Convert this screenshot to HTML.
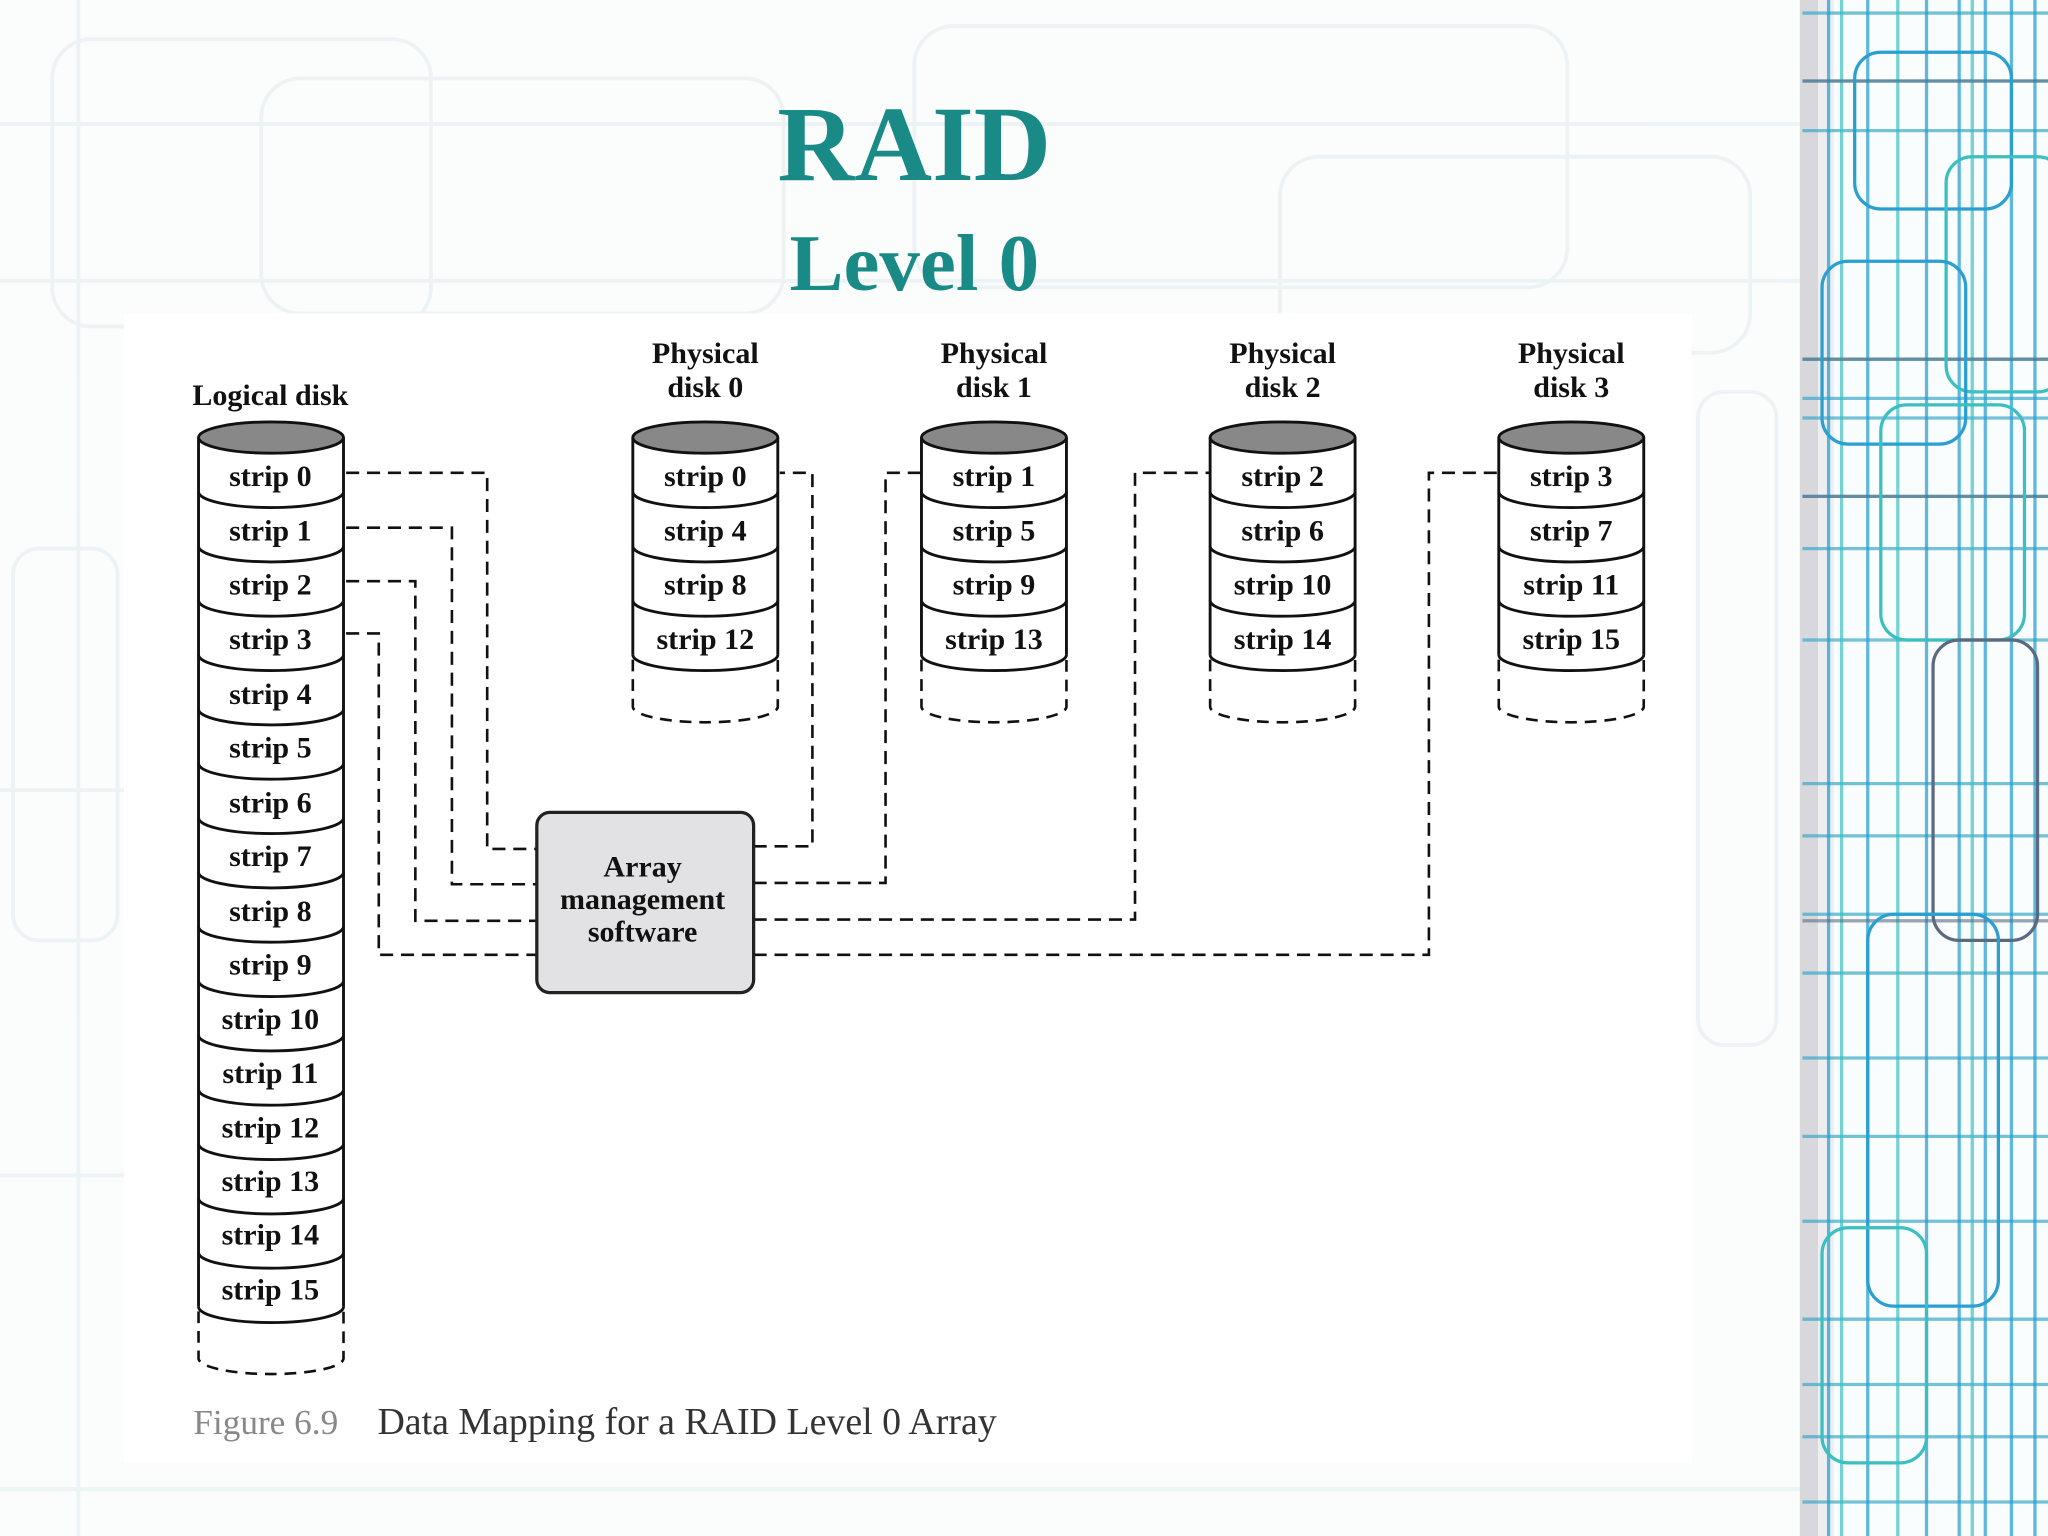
<!DOCTYPE html>
<html><head><meta charset="utf-8"><style>
html,body{margin:0;padding:0;background:#fff;}
svg{display:block;}
</style></head><body>
<svg width="2048" height="1536" viewBox="0 0 1568 1176" xmlns="http://www.w3.org/2000/svg" font-family="Liberation Serif, serif">
<defs>
<g id="pd">
<path d="M-55.5,335 L-55.5,501.4 M55.5,335 L55.5,501.4" stroke="#111" stroke-width="2.2" fill="none"/>
<path d="M-55.5,376.6 A55.5,12 0 0 0 55.5,376.6 M-55.5,418.2 A55.5,12 0 0 0 55.5,418.2 M-55.5,459.8 A55.5,12 0 0 0 55.5,459.8 M-55.5,501.4 A55.5,12 0 0 0 55.5,501.4" stroke="#111" stroke-width="2.2" fill="none"/>
<path d="M-55.5,505 L-55.5,541 A55.5,12 0 0 0 55.5,541 L55.5,505" stroke="#111" stroke-width="2" fill="none" stroke-dasharray="9,6"/>
<ellipse cx="0" cy="335" rx="55.5" ry="12" fill="#888" stroke="#111" stroke-width="2.2"/>
</g>
</defs>
<rect width="1568" height="1176" fill="#fbfdfd"/>
<g stroke="#eaf1f2" stroke-width="3" fill="none" opacity="0.8">
<rect x="40" y="30" width="290" height="220" rx="30"/>
<rect x="200" y="60" width="400" height="180" rx="30"/>
<rect x="700" y="20" width="500" height="200" rx="30"/>
<rect x="980" y="120" width="360" height="150" rx="30"/>
<path d="M0,95 H1380 M0,215 H1380 M0,605 H95 M0,900 H95 M0,1140 H1380 M60,0 V1176"/>
<rect x="10" y="420" width="80" height="300" rx="20"/>
<rect x="1300" y="300" width="60" height="500" rx="20"/>
</g>
<rect x="95" y="240" width="1200" height="880" fill="#fff"/>
<rect x="1380" y="0" width="188" height="1176" fill="#fafdfe"/>
<rect x="1378" y="0" width="14" height="1176" fill="#d8d8dc"/>
<rect x="1392" y="0" width="12" height="1176" fill="#eeeef0"/>
<g fill="none" stroke-width="2.5">
<path d="M1380,10 H1568 M1380,62 H1568 M1380,100 H1568 M1380,275 H1568 M1380,305 H1568 M1380,320 H1568 M1380,380 H1568 M1380,420 H1568 M1380,490 H1568 M1380,600 H1568 M1380,640 H1568 M1380,700 H1568 M1380,745 H1568 M1380,810 H1568 M1380,870 H1568 M1380,935 H1568 M1380,1010 H1568 M1380,1060 H1568 M1380,1100 H1568 M1380,1150 H1568" stroke="#3aa8c8" opacity="0.7"/>
<path d="M1400,0 V1176 M1430,0 V1176 M1475,0 V1176 M1500,0 V1176 M1520,0 V1176 M1540,0 V1176 M1558,0 V1176" stroke="#2a9fd0" opacity="0.75"/>
<path d="M1410,0 V1176 M1453,0 V1176 M1510,0 V1176" stroke="#3bbfc0" opacity="0.7"/>
<path d="M1380,62 H1568 M1380,275 H1568 M1380,380 H1568 M1380,705 H1568" stroke="#5a6a80" opacity="0.6"/>
<rect x="1420" y="40" width="120" height="120" rx="20" stroke="#2a9fd0"/>
<rect x="1490" y="120" width="90" height="180" rx="20" stroke="#3bbfc0"/>
<rect x="1395" y="200" width="110" height="140" rx="20" stroke="#2a9fd0"/>
<rect x="1440" y="310" width="110" height="180" rx="20" stroke="#3bbfc0"/>
<rect x="1480" y="490" width="80" height="230" rx="20" stroke="#5a6a80"/>
<rect x="1430" y="700" width="100" height="300" rx="20" stroke="#2a9fd0"/>
<rect x="1395" y="940" width="80" height="180" rx="20" stroke="#3bbfc0"/>
</g>
<text x="700" y="138" text-anchor="middle" font-size="82" font-weight="bold" fill="#1a8a86">RAID</text>
<text x="700" y="222" text-anchor="middle" font-size="62" font-weight="bold" fill="#1a8a86">Level 0</text>
<g font-size="23" font-weight="bold" fill="#111" text-anchor="middle">
<text x="207" y="310">Logical disk</text>
<text x="540" y="278">Physical</text><text x="540" y="304">disk 0</text>
<text x="761" y="278">Physical</text><text x="761" y="304">disk 1</text>
<text x="982" y="278">Physical</text><text x="982" y="304">disk 2</text>
<text x="1203" y="278">Physical</text><text x="1203" y="304">disk 3</text>
</g>
<g transform="translate(207.5,0)" stroke="#111" stroke-width="2.2" fill="none">
<path d="M-55.5,335 V1000.6 M55.5,335 V1000.6"/>
<path d="M-55.5,376.6 A55.5,12 0 0 0 55.5,376.6 M-55.5,418.2 A55.5,12 0 0 0 55.5,418.2 M-55.5,459.8 A55.5,12 0 0 0 55.5,459.8 M-55.5,501.4 A55.5,12 0 0 0 55.5,501.4 M-55.5,543 A55.5,12 0 0 0 55.5,543 M-55.5,584.6 A55.5,12 0 0 0 55.5,584.6 M-55.5,626.2 A55.5,12 0 0 0 55.5,626.2 M-55.5,667.8 A55.5,12 0 0 0 55.5,667.8 M-55.5,709.4 A55.5,12 0 0 0 55.5,709.4 M-55.5,751 A55.5,12 0 0 0 55.5,751 M-55.5,792.6 A55.5,12 0 0 0 55.5,792.6 M-55.5,834.2 A55.5,12 0 0 0 55.5,834.2 M-55.5,875.8 A55.5,12 0 0 0 55.5,875.8 M-55.5,917.4 A55.5,12 0 0 0 55.5,917.4 M-55.5,959 A55.5,12 0 0 0 55.5,959 M-55.5,1000.6 A55.5,12 0 0 0 55.5,1000.6"/>
<path d="M-55.5,1004 V1040 A55.5,12 0 0 0 55.5,1040 V1004" stroke-dasharray="9,6" stroke-width="2"/>
<ellipse cx="0" cy="335" rx="55.5" ry="12" fill="#888"/>
</g>
<g font-size="23" font-weight="bold" fill="#111" text-anchor="middle">
<text x="207" y="372">strip 0</text><text x="207" y="414">strip 1</text><text x="207" y="455">strip 2</text><text x="207" y="497">strip 3</text>
<text x="207" y="539">strip 4</text><text x="207" y="580">strip 5</text><text x="207" y="622">strip 6</text><text x="207" y="663">strip 7</text>
<text x="207" y="705">strip 8</text><text x="207" y="746">strip 9</text><text x="207" y="788">strip 10</text><text x="207" y="829">strip 11</text>
<text x="207" y="871">strip 12</text><text x="207" y="912">strip 13</text><text x="207" y="953">strip 14</text><text x="207" y="995">strip 15</text>
</g>
<use href="#pd" transform="translate(540,0)"/>
<use href="#pd" transform="translate(761,0)"/>
<use href="#pd" transform="translate(982,0)"/>
<use href="#pd" transform="translate(1203,0)"/>
<g font-size="23" font-weight="bold" fill="#111" text-anchor="middle">
<text x="540" y="372">strip 0</text><text x="540" y="414">strip 4</text><text x="540" y="455">strip 8</text><text x="540" y="497">strip 12</text>
<text x="761" y="372">strip 1</text><text x="761" y="414">strip 5</text><text x="761" y="455">strip 9</text><text x="761" y="497">strip 13</text>
<text x="982" y="372">strip 2</text><text x="982" y="414">strip 6</text><text x="982" y="455">strip 10</text><text x="982" y="497">strip 14</text>
<text x="1203" y="372">strip 3</text><text x="1203" y="414">strip 7</text><text x="1203" y="455">strip 11</text><text x="1203" y="497">strip 15</text>
</g>
<g stroke="#111" stroke-width="2" fill="none" stroke-dasharray="10,6">
<path d="M265,362 H373 V650 H411"/>
<path d="M265,404 H346 V677 H411"/>
<path d="M265,445 H318 V705 H411"/>
<path d="M265,485 H290 V731 H411"/>
<path d="M577,648 H622 V362 H597"/>
<path d="M577,676 H678 V362 H705"/>
<path d="M577,704 H869 V362 H926"/>
<path d="M577,731 H1094 V362 H1147"/>
</g>
<rect x="411" y="622" width="166" height="138" rx="10" fill="#e2e2e4" stroke="#222" stroke-width="2.5"/>
<g font-size="23" font-weight="bold" fill="#111" text-anchor="middle">
<text x="492" y="671">Array</text>
<text x="492" y="696">management</text>
<text x="492" y="721">software</text>
</g>
<text x="148" y="1098" font-size="27" fill="#888">Figure 6.9</text>
<text x="289" y="1098" font-size="29" fill="#333">Data Mapping for a RAID Level 0 Array</text>
</svg>
</body></html>
